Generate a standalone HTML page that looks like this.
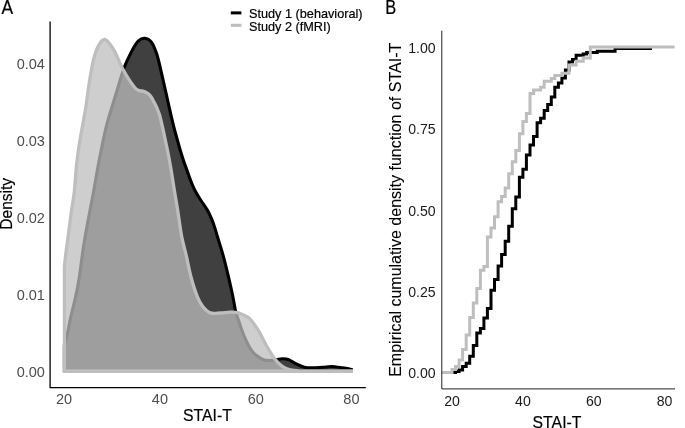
<!DOCTYPE html>
<html><head><meta charset="utf-8"><title>STAI-T distributions</title>
<style>
html,body{margin:0;padding:0;background:#fff;}
svg{display:block;}
text{font-family:"Liberation Sans",sans-serif;}
.ta{font-size:14.5px;fill:#4d4d4d;}
.tb{font-size:14.1px;fill:#1a1a1a;}
.ttl{font-size:15.8px;fill:#000;stroke:#000;stroke-width:0.18px;}
.lg{font-size:12.7px;fill:#000;stroke:#000;stroke-width:0.2px;}
.pl{font-size:16px;fill:#000;stroke:#000;stroke-width:0.2px;}
</style></head>
<body>
<svg width="685" height="428" viewBox="0 0 685 428">
<rect width="685" height="428" fill="#fff"/>
<!-- Panel A -->
<path d="M64.4 370.8 L64.4 345.0C65.0 342.8 66.8 336.5 67.8 332.0C68.8 327.5 69.2 323.8 70.5 318.2C71.8 312.6 73.8 304.8 75.3 298.1C76.8 291.4 78.0 285.6 79.2 278.0C80.4 270.4 81.6 259.9 82.7 252.3C83.8 244.7 84.7 238.9 85.9 232.2C87.1 225.5 88.4 218.8 89.7 212.1C91.0 205.4 92.1 199.6 93.5 192.0C94.9 184.4 96.6 173.9 98.0 166.3C99.4 158.7 100.6 152.9 102.0 146.2C103.4 139.5 104.7 132.8 106.4 126.1C108.1 119.4 110.3 112.6 112.3 106.0C114.3 99.4 116.3 92.8 118.3 86.3C120.3 79.8 122.0 73.2 124.3 67.2C126.6 61.2 130.0 54.5 132.3 50.1C134.6 45.8 136.1 43.1 138.2 41.1C140.3 39.1 142.6 38.1 144.8 38.3C147.0 38.5 149.5 39.6 151.4 42.1C153.3 44.6 155.0 49.1 156.4 53.1C157.8 57.1 158.6 60.7 159.9 66.2C161.2 71.7 163.0 79.7 164.5 86.3C166.0 92.9 167.4 99.4 168.9 106.0C170.4 112.6 171.8 119.1 173.6 126.1C175.4 133.1 178.0 142.3 179.6 148.0C181.2 153.7 182.1 156.3 183.3 160.0C184.5 163.7 185.7 166.8 186.9 170.1C188.1 173.4 189.2 176.8 190.5 180.1C191.8 183.4 193.1 186.8 194.8 190.2C196.5 193.5 198.7 196.8 200.8 200.2C202.9 203.5 205.6 207.0 207.5 210.3C209.4 213.7 210.8 217.0 212.2 220.3C213.5 223.7 214.8 227.8 215.6 230.4C216.4 233.0 215.9 231.7 217.2 236.0C218.5 240.3 221.5 249.4 223.3 256.1C225.2 262.8 226.7 269.5 228.3 276.2C229.9 282.9 231.6 290.6 232.8 296.3C234.0 302.0 234.4 306.0 235.4 310.3C236.4 314.6 237.7 317.8 239.1 322.1C240.5 326.4 242.3 331.9 244.1 336.2C245.9 340.5 248.1 345.0 250.1 348.2C252.1 351.4 253.8 353.4 256.2 355.3C258.6 357.2 261.5 359.1 264.2 359.9C266.9 360.7 269.2 360.5 272.2 360.3C275.2 360.1 279.6 358.8 282.3 358.7C285.0 358.6 286.0 358.6 288.3 359.5C290.6 360.4 293.6 362.6 296.3 363.9C299.0 365.2 301.7 366.6 304.4 367.3C307.1 368.0 309.4 367.9 312.4 367.9C315.4 367.9 319.2 367.5 322.4 367.3C325.6 367.1 328.1 366.4 331.5 366.5C334.9 366.6 339.2 367.4 342.5 367.9C345.8 368.4 349.9 369.1 351.4 369.4L351.4 370.8Z" fill="#000" fill-opacity="0.75" stroke="none"/>
<path d="M64.4 370.8 L64.4 345.0C65.0 342.8 66.8 336.5 67.8 332.0C68.8 327.5 69.2 323.8 70.5 318.2C71.8 312.6 73.8 304.8 75.3 298.1C76.8 291.4 78.0 285.6 79.2 278.0C80.4 270.4 81.6 259.9 82.7 252.3C83.8 244.7 84.7 238.9 85.9 232.2C87.1 225.5 88.4 218.8 89.7 212.1C91.0 205.4 92.1 199.6 93.5 192.0C94.9 184.4 96.6 173.9 98.0 166.3C99.4 158.7 100.6 152.9 102.0 146.2C103.4 139.5 104.7 132.8 106.4 126.1C108.1 119.4 110.3 112.6 112.3 106.0C114.3 99.4 116.3 92.8 118.3 86.3C120.3 79.8 122.0 73.2 124.3 67.2C126.6 61.2 130.0 54.5 132.3 50.1C134.6 45.8 136.1 43.1 138.2 41.1C140.3 39.1 142.6 38.1 144.8 38.3C147.0 38.5 149.5 39.6 151.4 42.1C153.3 44.6 155.0 49.1 156.4 53.1C157.8 57.1 158.6 60.7 159.9 66.2C161.2 71.7 163.0 79.7 164.5 86.3C166.0 92.9 167.4 99.4 168.9 106.0C170.4 112.6 171.8 119.1 173.6 126.1C175.4 133.1 178.0 142.3 179.6 148.0C181.2 153.7 182.1 156.3 183.3 160.0C184.5 163.7 185.7 166.8 186.9 170.1C188.1 173.4 189.2 176.8 190.5 180.1C191.8 183.4 193.1 186.8 194.8 190.2C196.5 193.5 198.7 196.8 200.8 200.2C202.9 203.5 205.6 207.0 207.5 210.3C209.4 213.7 210.8 217.0 212.2 220.3C213.5 223.7 214.8 227.8 215.6 230.4C216.4 233.0 215.9 231.7 217.2 236.0C218.5 240.3 221.5 249.4 223.3 256.1C225.2 262.8 226.7 269.5 228.3 276.2C229.9 282.9 231.6 290.6 232.8 296.3C234.0 302.0 234.4 306.0 235.4 310.3C236.4 314.6 237.7 317.8 239.1 322.1C240.5 326.4 242.3 331.9 244.1 336.2C245.9 340.5 248.1 345.0 250.1 348.2C252.1 351.4 253.8 353.4 256.2 355.3C258.6 357.2 261.5 359.1 264.2 359.9C266.9 360.7 269.2 360.5 272.2 360.3C275.2 360.1 279.6 358.8 282.3 358.7C285.0 358.6 286.0 358.6 288.3 359.5C290.6 360.4 293.6 362.6 296.3 363.9C299.0 365.2 301.7 366.6 304.4 367.3C307.1 368.0 309.4 367.9 312.4 367.9C315.4 367.9 319.2 367.5 322.4 367.3C325.6 367.1 328.1 366.4 331.5 366.5C334.9 366.6 339.2 367.4 342.5 367.9C345.8 368.4 349.9 369.1 351.4 369.4L351.4 370.8Z" fill="none" stroke="#000" stroke-width="3.1" stroke-linejoin="miter"/>
<path d="M64.4 370.8 L64.4 266.0C64.7 263.7 65.3 257.9 66.0 252.3C66.7 246.7 67.8 238.9 68.7 232.2C69.6 225.5 70.4 218.8 71.3 212.1C72.2 205.4 73.4 199.6 74.3 192.0C75.2 184.4 75.6 173.9 76.4 166.3C77.2 158.7 78.0 152.9 79.0 146.2C80.0 139.5 81.3 132.8 82.5 126.1C83.7 119.4 85.0 112.6 86.0 106.0C87.0 99.4 87.5 93.9 88.7 86.3C89.9 78.7 91.7 67.1 93.4 60.2C95.1 53.3 96.8 48.5 98.8 45.1C100.8 41.7 102.7 38.8 105.2 39.6C107.7 40.4 111.0 45.2 113.9 50.1C116.9 55.0 119.5 63.0 122.9 69.2C126.3 75.4 131.6 83.6 134.3 87.1C137.0 90.6 137.4 89.7 139.0 90.4C140.6 91.1 142.3 90.9 143.7 91.4C145.1 91.9 146.2 92.3 147.4 93.2C148.7 94.1 150.1 95.5 151.2 97.0C152.3 98.5 153.1 100.3 154.0 102.1C154.9 103.9 155.9 105.5 156.8 107.7C157.7 109.9 158.7 111.9 159.6 115.0C160.5 118.1 161.1 120.9 162.3 126.1C163.5 131.3 165.2 139.5 166.6 146.2C168.0 152.9 169.2 159.0 170.5 166.3C171.8 173.6 173.1 182.6 174.3 190.0C175.5 197.4 176.6 203.3 177.8 211.0C179.0 218.7 180.2 228.5 181.6 236.0C183.0 243.5 184.9 249.4 186.4 256.1C187.9 262.8 189.0 269.5 190.8 276.2C192.6 282.9 195.2 291.3 197.2 296.3C199.2 301.3 200.4 303.5 202.6 306.3C204.8 309.1 207.4 311.8 210.3 312.9C213.2 314.0 217.0 313.1 220.3 313.0C223.7 312.9 227.4 312.2 230.4 312.2C233.4 312.2 235.7 312.1 238.4 312.8C241.1 313.5 244.5 315.3 246.4 316.4C248.3 317.4 248.1 316.8 250.1 319.1C252.1 321.4 255.5 325.9 258.2 330.2C260.9 334.5 263.5 340.5 266.2 345.2C268.9 349.9 271.5 354.8 274.2 358.3C276.9 361.8 279.6 364.4 282.3 366.3C285.0 368.2 287.0 369.1 290.3 369.9C293.6 370.7 297.4 370.7 302.4 370.9C307.3 371.1 311.8 371.0 320.0 371.0C328.2 371.0 346.2 371.0 351.4 371.0L351.4 370.8Z" fill="#bebebe" fill-opacity="0.75" stroke="none"/>
<path d="M64.4 370.8 L64.4 266.0C64.7 263.7 65.3 257.9 66.0 252.3C66.7 246.7 67.8 238.9 68.7 232.2C69.6 225.5 70.4 218.8 71.3 212.1C72.2 205.4 73.4 199.6 74.3 192.0C75.2 184.4 75.6 173.9 76.4 166.3C77.2 158.7 78.0 152.9 79.0 146.2C80.0 139.5 81.3 132.8 82.5 126.1C83.7 119.4 85.0 112.6 86.0 106.0C87.0 99.4 87.5 93.9 88.7 86.3C89.9 78.7 91.7 67.1 93.4 60.2C95.1 53.3 96.8 48.5 98.8 45.1C100.8 41.7 102.7 38.8 105.2 39.6C107.7 40.4 111.0 45.2 113.9 50.1C116.9 55.0 119.5 63.0 122.9 69.2C126.3 75.4 131.6 83.6 134.3 87.1C137.0 90.6 137.4 89.7 139.0 90.4C140.6 91.1 142.3 90.9 143.7 91.4C145.1 91.9 146.2 92.3 147.4 93.2C148.7 94.1 150.1 95.5 151.2 97.0C152.3 98.5 153.1 100.3 154.0 102.1C154.9 103.9 155.9 105.5 156.8 107.7C157.7 109.9 158.7 111.9 159.6 115.0C160.5 118.1 161.1 120.9 162.3 126.1C163.5 131.3 165.2 139.5 166.6 146.2C168.0 152.9 169.2 159.0 170.5 166.3C171.8 173.6 173.1 182.6 174.3 190.0C175.5 197.4 176.6 203.3 177.8 211.0C179.0 218.7 180.2 228.5 181.6 236.0C183.0 243.5 184.9 249.4 186.4 256.1C187.9 262.8 189.0 269.5 190.8 276.2C192.6 282.9 195.2 291.3 197.2 296.3C199.2 301.3 200.4 303.5 202.6 306.3C204.8 309.1 207.4 311.8 210.3 312.9C213.2 314.0 217.0 313.1 220.3 313.0C223.7 312.9 227.4 312.2 230.4 312.2C233.4 312.2 235.7 312.1 238.4 312.8C241.1 313.5 244.5 315.3 246.4 316.4C248.3 317.4 248.1 316.8 250.1 319.1C252.1 321.4 255.5 325.9 258.2 330.2C260.9 334.5 263.5 340.5 266.2 345.2C268.9 349.9 271.5 354.8 274.2 358.3C276.9 361.8 279.6 364.4 282.3 366.3C285.0 368.2 287.0 369.1 290.3 369.9C293.6 370.7 297.4 370.7 302.4 370.9C307.3 371.1 311.8 371.0 320.0 371.0C328.2 371.0 346.2 371.0 351.4 371.0L351.4 370.8Z" fill="none" stroke="#bebebe" stroke-width="3.3" stroke-linejoin="miter"/>
<path d="M50.1 21.4V387.6H365.8" fill="none" stroke="#000" stroke-width="1.3"/>
<text class="pl" style="font-size:17.4px" transform="translate(1.4 14) scale(1 1.14)">A</text>
<g class="ta" text-anchor="end">
<text x="44.9" y="69.2">0.04</text>
<text x="44.9" y="146.1">0.03</text>
<text x="44.9" y="223">0.02</text>
<text x="44.9" y="299.9">0.01</text>
<text x="44.9" y="376.8">0.00</text>
</g>
<g class="ta" text-anchor="middle">
<text x="64.1" y="404.2">20</text>
<text x="159.9" y="404.2">40</text>
<text x="255.7" y="404.2">60</text>
<text x="351.4" y="404.2">80</text>
</g>
<text class="ttl" text-anchor="middle" transform="translate(207.4 420.7) scale(1 1.09)">STAI-T</text>
<text class="ttl" style="font-size:15.5px" text-anchor="middle" transform="translate(12.1 203.8) rotate(-90) scale(1 1.06)">Density</text>
<!-- Legend -->
<rect x="230.8" y="11.4" width="10.6" height="3" fill="#000"/>
<rect x="230.8" y="23.8" width="10.6" height="3" fill="#bebebe"/>
<text class="lg" x="249" y="18.4">Study 1 (behavioral)</text>
<text class="lg" x="249" y="31">Study 2 (fMRI)</text>
<!-- Panel B -->
<path d="M441.8 372.5H455.5V371.5H459.1V369.9H462.6V366.6H466.2V363.2H469.7V356.2H473.3V345.5H476.8V332.9H480.4V328.6H483.9V318.0H487.4V308.5H491.0V290.2H494.5V279.5H498.1V265.9H501.6V254.6H505.2V241.3H508.7V226.2H512.3V208.8H515.8V197.0H519.4V177.2H522.9V169.3H526.4V155.1H530.0V145.0H533.5V136.5H537.1V122.8H540.6V118.2H544.2V110.6H547.7V104.5H551.3V97.0H554.8V87.3H558.4V83.1H561.9V78.0H565.4V70.0H569.0V62.0H572.5V59.6H576.1V55.2H583.2V54.1H586.7V52.4H597.3V51.2H615.1V48.4H650.5V47.0" fill="none" stroke="#000" stroke-width="3" stroke-linejoin="miter"/>
<path d="M441.8 372.5H452.0V369.5H455.5V366.6H459.1V360.1H462.6V349.4H466.2V335.1H469.7V317.4H473.3V302.9H476.8V288.4H480.4V270.3H483.9V266.5H487.4V236.9H491.0V228.1H494.5V216.7H498.1V201.8H501.6V196.5H505.2V187.9H508.7V173.8H512.3V161.7H515.8V150.6H519.4V133.7H522.9V121.6H526.4V113.5H530.0V93.4H533.5V90.1H540.6V87.3H544.2V81.2H551.3V78.4H554.8V75.6H561.9V73.3H569.0V65.0H576.1V61.2H583.2V58.0H590.3V47.0H674.6" fill="none" stroke="#bebebe" stroke-width="3" stroke-linejoin="miter"/>
<path d="M441.8 30.7V388.9H675" fill="none" stroke="#222" stroke-width="1"/>
<text class="pl" style="font-size:16.4px" transform="translate(385.2 14) scale(1 1.21)">B</text>
<g class="tb" text-anchor="end">
<text x="435.6" y="52.8">1.00</text>
<text x="435.6" y="134.2">0.75</text>
<text x="435.6" y="215.6">0.50</text>
<text x="435.6" y="297">0.25</text>
<text x="435.6" y="378.3">0.00</text>
</g>
<g class="tb" text-anchor="middle">
<text x="452" y="406">20</text>
<text x="522.9" y="406">40</text>
<text x="593.8" y="406">60</text>
<text x="664.5" y="406">80</text>
</g>
<text class="ttl" text-anchor="middle" transform="translate(557 428.2) scale(1 1.09)">STAI-T</text>
<text class="ttl" style="font-size:16px;stroke-width:0.08px" text-anchor="middle" transform="translate(401.3 209.8) rotate(-90)">Empirical cumulative density function of STAI-T</text>
</svg>
</body></html>
